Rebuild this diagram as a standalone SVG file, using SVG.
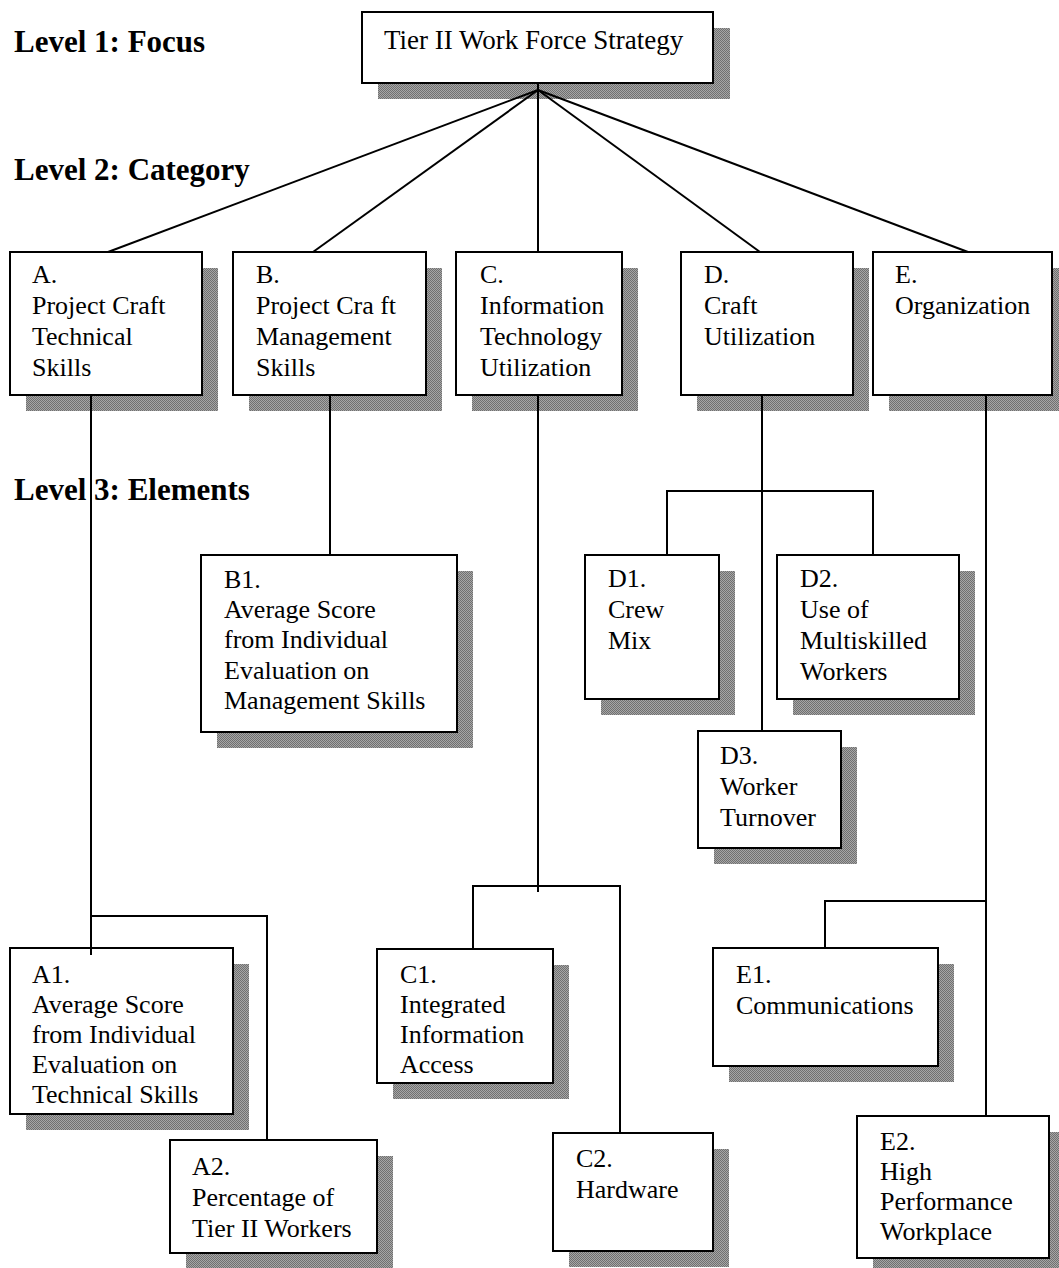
<svg xmlns="http://www.w3.org/2000/svg" width="1059" height="1268" viewBox="0 0 1059 1268">
<style>
.sh{fill:url(#dots);stroke:none}
.box{fill:#fff;stroke:#000;stroke-width:2}
.t{font-family:"Liberation Serif","Times New Roman",serif;font-size:26px;fill:#000}
.lvl{font-family:"Liberation Serif","Times New Roman",serif;font-size:31px;font-weight:bold;fill:#000}
.con{fill:none;stroke:#000;stroke-width:2}
</style>
<defs>
<pattern id="dots" width="2" height="2" patternUnits="userSpaceOnUse">
<rect width="2" height="2" fill="#a6a6a6"/>
<rect width="1" height="1" fill="#707070"/>
<rect x="1" y="1" width="1" height="1" fill="#707070"/>
</pattern>
</defs>
<rect width="1059" height="1268" fill="#fff"/>
<g id="levels">
<text class="lvl" x="14" y="52">Level 1: Focus</text>
<text class="lvl" x="14" y="180">Level 2: Category</text>
<text class="lvl" x="14" y="500">Level 3: Elements</text>
</g>
<g id="top">
<rect class="sh" x="378" y="28" width="352" height="71"/>
<rect class="box" x="362" y="12" width="351" height="71"/>
<text class="t" x="384" y="49" style="font-size:27px">Tier II Work Force Strategy</text>
</g>
<g id="A">
<rect class="sh" x="26" y="268" width="192" height="143"/>
<rect class="box" x="10" y="252" width="192" height="143"/>
<text class="t"><tspan x="32" y="283">A.</tspan><tspan x="32" y="314">Project Craft</tspan><tspan x="32" y="345">Technical</tspan><tspan x="32" y="376">Skills</tspan></text>
</g>
<g id="B">
<rect class="sh" x="249" y="268" width="193" height="143"/>
<rect class="box" x="233" y="252" width="193" height="143"/>
<text class="t"><tspan x="256" y="283">B.</tspan><tspan x="256" y="314">Project Cra ft</tspan><tspan x="256" y="345">Management</tspan><tspan x="256" y="376">Skills</tspan></text>
</g>
<g id="C">
<rect class="sh" x="472" y="268" width="166" height="143"/>
<rect class="box" x="456" y="252" width="166" height="143"/>
<text class="t"><tspan x="480" y="283">C.</tspan><tspan x="480" y="314">Information</tspan><tspan x="480" y="345">Technology</tspan><tspan x="480" y="376">Utilization</tspan></text>
</g>
<g id="D">
<rect class="sh" x="697" y="268" width="172" height="143"/>
<rect class="box" x="681" y="252" width="172" height="143"/>
<text class="t"><tspan x="704" y="283">D.</tspan><tspan x="704" y="314">Craft</tspan><tspan x="704" y="345">Utilization</tspan></text>
</g>
<g id="E">
<rect class="sh" x="889" y="268" width="179" height="143"/>
<rect class="box" x="873" y="252" width="179" height="143"/>
<text class="t"><tspan x="895" y="283">E.</tspan><tspan x="895" y="314">Organization</tspan></text>
</g>
<g id="B1">
<rect class="sh" x="217" y="571" width="256" height="177"/>
<rect class="box" x="201" y="555" width="256" height="177"/>
<text class="t"><tspan x="224" y="588">B1.</tspan><tspan x="224" y="618">Average Score</tspan><tspan x="224" y="648">from Individual</tspan><tspan x="224" y="679">Evaluation on</tspan><tspan x="224" y="709">Management Skills</tspan></text>
</g>
<g id="D1">
<rect class="sh" x="601" y="571" width="134" height="144"/>
<rect class="box" x="585" y="555" width="134" height="144"/>
<text class="t"><tspan x="608" y="587">D1.</tspan><tspan x="608" y="618">Crew</tspan><tspan x="608" y="649">Mix</tspan></text>
</g>
<g id="D2">
<rect class="sh" x="793" y="571" width="182" height="144"/>
<rect class="box" x="777" y="555" width="182" height="144"/>
<text class="t"><tspan x="800" y="587">D2.</tspan><tspan x="800" y="618">Use of</tspan><tspan x="800" y="649">Multiskilled</tspan><tspan x="800" y="680">Workers</tspan></text>
</g>
<g id="D3">
<rect class="sh" x="714" y="747" width="143" height="117"/>
<rect class="box" x="698" y="731" width="143" height="117"/>
<text class="t"><tspan x="720" y="764">D3.</tspan><tspan x="720" y="795">Worker</tspan><tspan x="720" y="826">Turnover</tspan></text>
</g>
<g id="A1">
<rect class="sh" x="26" y="964" width="223" height="166"/>
<rect class="box" x="10" y="948" width="223" height="166"/>
<text class="t"><tspan x="32" y="983">A1.</tspan><tspan x="32" y="1013">Average Score</tspan><tspan x="32" y="1043">from Individual</tspan><tspan x="32" y="1073">Evaluation on</tspan><tspan x="32" y="1103">Technical Skills</tspan></text>
</g>
<g id="A2">
<rect class="sh" x="186" y="1156" width="207" height="113"/>
<rect class="box" x="170" y="1140" width="207" height="113"/>
<text class="t"><tspan x="192" y="1175">A2.</tspan><tspan x="192" y="1206">Percentage of</tspan><tspan x="192" y="1237">Tier II Workers</tspan></text>
</g>
<g id="C1">
<rect class="sh" x="393" y="965" width="176" height="134"/>
<rect class="box" x="377" y="949" width="176" height="134"/>
<text class="t"><tspan x="400" y="983">C1.</tspan><tspan x="400" y="1013">Integrated</tspan><tspan x="400" y="1043">Information</tspan><tspan x="400" y="1073">Access</tspan></text>
</g>
<g id="C2">
<rect class="sh" x="569" y="1149" width="160" height="118"/>
<rect class="box" x="553" y="1133" width="160" height="118"/>
<text class="t"><tspan x="576" y="1167">C2.</tspan><tspan x="576" y="1198">Hardware</tspan></text>
</g>
<g id="E1">
<rect class="sh" x="729" y="964" width="225" height="118"/>
<rect class="box" x="713" y="948" width="225" height="118"/>
<text class="t"><tspan x="736" y="983">E1.</tspan><tspan x="736" y="1014">Communications</tspan></text>
</g>
<g id="E2">
<rect class="sh" x="873" y="1132" width="192" height="142"/>
<rect class="box" x="857" y="1116" width="192" height="142"/>
<text class="t"><tspan x="880" y="1150">E2.</tspan><tspan x="880" y="1180">High</tspan><tspan x="880" y="1210">Performance</tspan><tspan x="880" y="1240">Workplace</tspan></text>
</g>
<g id="connectors" class="con">
<path class="con" d="M538,83 V252"/>
<path class="con" d="M538,90 L108,252"/>
<path class="con" d="M538,90 L313,252"/>
<path class="con" d="M538,90 L760,252"/>
<path class="con" d="M538,90 L968,252"/>
<path class="con" d="M91,395 V955"/>
<path class="con" d="M91,916 H267 V1140"/>
<path class="con" d="M330,395 V555"/>
<path class="con" d="M538,395 V892"/>
<path class="con" d="M473,949 V886 H620 V1133"/>
<path class="con" d="M762,395 V731"/>
<path class="con" d="M667,555 V491 H873 V555"/>
<path class="con" d="M986,395 V1116"/>
<path class="con" d="M825,948 V901 H986"/>
</g>
</svg>
